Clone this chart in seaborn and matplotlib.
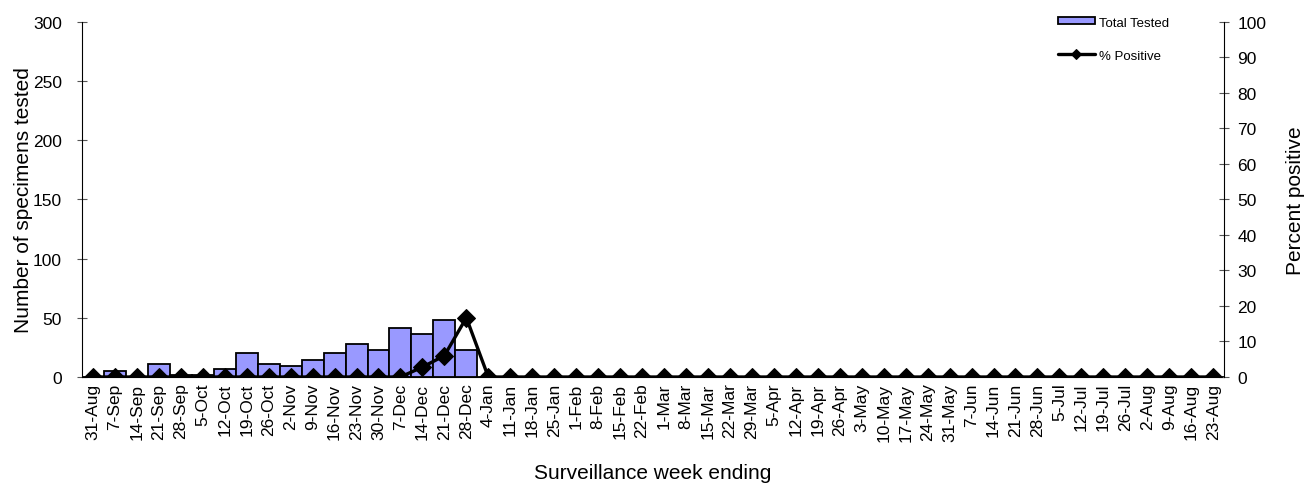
import matplotlib

matplotlib.use("Agg")
import matplotlib.pyplot as plt  # noqa: E402
import numpy as np  # noqa: E402
import pandas as pd  # noqa: E402
import seaborn as sns  # noqa: E402

weeks = [
    "31-Aug", "7-Sep", "14-Sep", "21-Sep", "28-Sep", "5-Oct", "12-Oct", "19-Oct", "26-Oct",
    "2-Nov", "9-Nov", "16-Nov", "23-Nov", "30-Nov", "7-Dec", "14-Dec", "21-Dec", "28-Dec",
    "4-Jan", "11-Jan", "18-Jan", "25-Jan", "1-Feb", "8-Feb", "15-Feb", "22-Feb", "1-Mar",
    "8-Mar", "15-Mar", "22-Mar", "29-Mar", "5-Apr", "12-Apr", "19-Apr", "26-Apr", "3-May",
    "10-May", "17-May", "24-May", "31-May", "7-Jun", "14-Jun", "21-Jun", "28-Jun", "5-Jul",
    "12-Jul", "19-Jul", "26-Jul", "2-Aug", "9-Aug", "16-Aug", "23-Aug",
]
total_tested = [0, 5, 0, 11, 2, 2, 7, 20, 11, 9, 14, 20, 28, 23, 41, 36, 48, 23] + [0] * 34
pct_positive = [0] * 15 + [2.8, 6.0, 16.7] + [0] * 34

df = pd.DataFrame({"week": weeks, "total": total_tested, "pct": pct_positive})
df["pos"] = np.arange(len(df))

sns.set_theme(style="white")
plt.rcParams["font.family"] = ["Liberation Sans", "DejaVu Sans"]
plt.rcParams["text.color"] = "black"
plt.rcParams["axes.labelcolor"] = "black"
plt.rcParams["xtick.color"] = "black"
plt.rcParams["ytick.color"] = "black"

fig = plt.figure(figsize=(13.09, 4.89), dpi=100)
ax = fig.add_axes([0.0626, 0.227, 0.8726, 0.726])
ax2 = ax.twinx()

sns.barplot(data=df, x="week", y="total", ax=ax, color="#9999FF", width=1.0,
            edgecolor="black", linewidth=1.3, saturation=1, label="Total Tested")
sns.lineplot(data=df, x="pos", y="pct", ax=ax2, color="black", linewidth=2.4,
             marker="D", markersize=9.5, markeredgecolor="black", label="% Positive")

ax.set_xlim(-0.5, len(df) - 0.5)
ax.set_ylim(0, 300)
ax2.set_ylim(0, 100)
ax.set_yticks(range(0, 301, 50))
ax2.set_yticks(range(0, 101, 10))

ax.set_xlabel("Surveillance week ending", fontsize=15, labelpad=16)
ax.set_ylabel("Number of specimens tested", fontsize=15, labelpad=0)
ax2.set_ylabel("Percent positive", fontsize=15, labelpad=14)

ax.tick_params(axis="x", which="major", length=0, labelsize=12.5, labelrotation=90, pad=4)
ax.set_xticks(np.arange(len(df) + 1) - 0.5, minor=True)
ax.tick_params(axis="x", which="minor", length=3, width=0.8, direction="out", color="#555555")
ax.tick_params(axis="y", length=7, width=0.8, direction="inout", labelsize=12.5,
               color="#555555", pad=11)
ax2.tick_params(axis="y", length=7, width=0.8, direction="inout", labelsize=12.5,
                color="#555555", pad=6)

for a in (ax, ax2):
    a.spines["top"].set_visible(False)
    for s in ("left", "right", "bottom"):
        a.spines[s].set_color("black")
        a.spines[s].set_linewidth(0.8)
ax.spines["right"].set_visible(False)
ax2.spines["left"].set_visible(False)
ax2.spines["bottom"].set_visible(False)

h1, l1 = ax.get_legend_handles_labels()
h2, l2 = ax2.get_legend_handles_labels()
if ax.get_legend():
    ax.get_legend().remove()
ax2.legend(h1 + h2, l1 + l2, loc="upper left", bbox_to_anchor=(0.804, 0.975),
           bbox_transform=fig.transFigure, frameon=False, fontsize=9.5,
           handlelength=2.8, handleheight=0.45, handletextpad=0.3, labelspacing=1.6,
           markerscale=0.5, borderaxespad=0)

fig.savefig("out.png", dpi=100)
